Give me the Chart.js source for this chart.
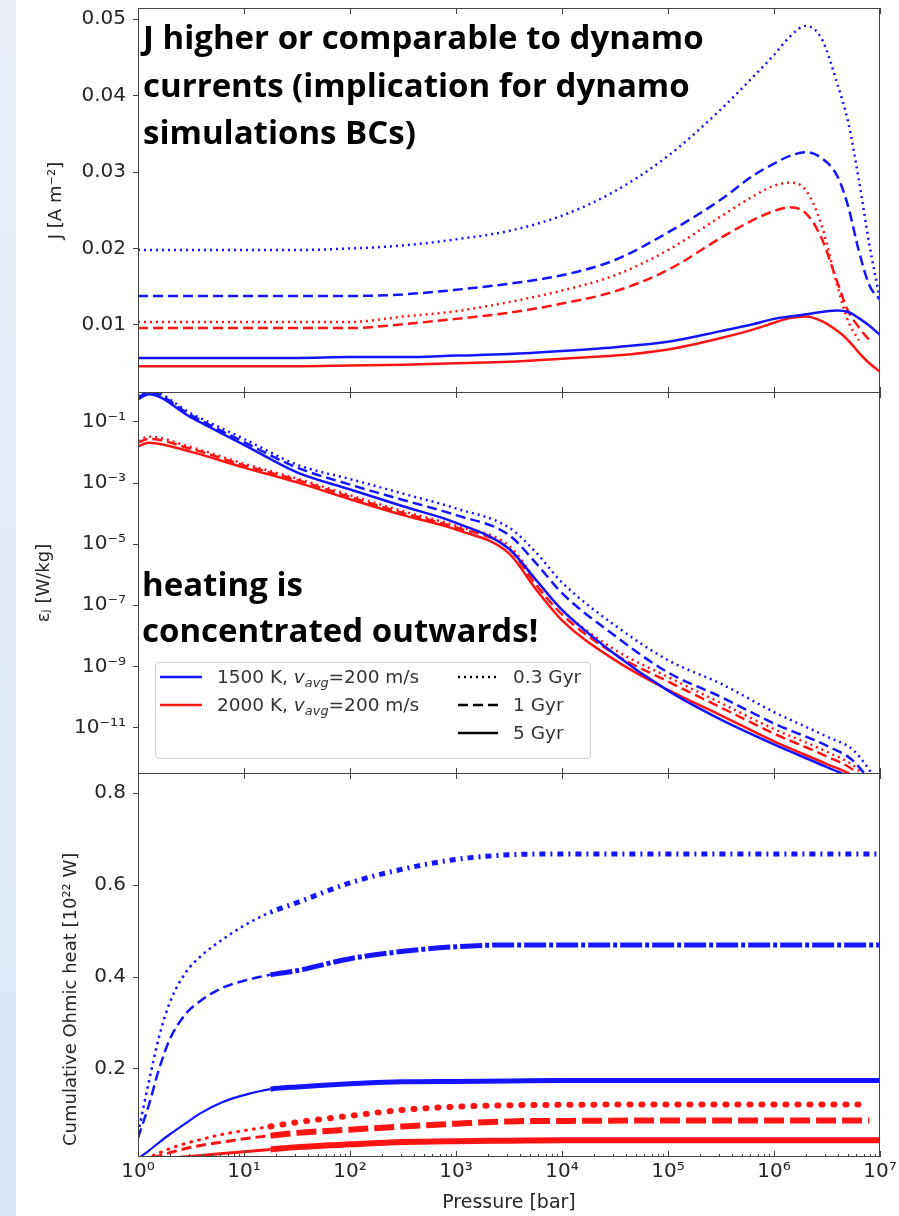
<!DOCTYPE html>
<html>
<head>
<meta charset="utf-8">
<title>Ohmic heating profiles</title>
<script src="https://cdn.jsdelivr.net/npm/chart.js@4.4.1/dist/chart.umd.min.js"></script>
<style>
  html, body { margin: 0; padding: 0; background: #fff; }
  body { position: relative; width: 899px; height: 1216px; overflow: hidden; }
  #strip { position: absolute; left: 0; top: 0; width: 16px; height: 1216px;
           background: linear-gradient(#eaeff8, #dae7f5); }
  canvas { position: absolute; left: 0; }
  .note { position: absolute; font-family: "Open Sans", sans-serif; font-weight: 700;
          font-size: 33px; color: #000; white-space: nowrap; z-index: 5; }
  #legend { position: absolute; left: 155px; top: 662px; width: 434px; height: 95px;
            border: 1px solid #cfcfcf; border-radius: 4px; background: rgba(255,255,255,0.85);
            font-family: "DejaVu Sans", sans-serif; font-size: 18.5px; color: #333; z-index: 4; }
  #legend span { position: absolute; line-height: 20px; white-space: nowrap; }
  #legend sub { font-size: 70%; vertical-align: -0.3em; line-height: 0; }
</style>
</head>
<body>
<div id="strip"></div>
<canvas id="cJ" width="899" height="394" style="top:0"></canvas>
<canvas id="cEps" width="899" height="383" style="top:392px"></canvas>
<canvas id="cCum" width="899" height="443" style="top:773px"></canvas>

<div class="note" style="left:143px; top:13px; line-height:47.5px">J higher or comparable to dynamo<br>currents (implication for dynamo<br>simulations BCs)</div>
<div class="note" style="left:142px; top:561px; line-height:46px">heating is<br>concentrated outwards!</div>

<div id="legend">
  <svg width="434" height="95" style="position:absolute; left:0; top:0">
    <line x1="4" y1="14" x2="46" y2="14" stroke="#1414ff" stroke-width="2.5"/>
    <line x1="4" y1="42" x2="46" y2="42" stroke="#ff1414" stroke-width="2.5"/>
    <line x1="302" y1="14" x2="342" y2="14" stroke="#000" stroke-width="2.5" stroke-dasharray="2 4"/>
    <line x1="302" y1="42" x2="342" y2="42" stroke="#000" stroke-width="2.5" stroke-dasharray="10 5"/>
    <line x1="302" y1="70" x2="342" y2="70" stroke="#000" stroke-width="2.5"/>
  </svg>
  <span style="left:61px; top:4px">1500 K, <i>v</i><sub><i>avg</i></sub>=200 m/s</span>
  <span style="left:61px; top:32px">2000 K, <i>v</i><sub><i>avg</i></sub>=200 m/s</span>
  <span style="left:357px; top:4px">0.3 Gyr</span>
  <span style="left:357px; top:32px">1 Gyr</span>
  <span style="left:357px; top:60px">5 Gyr</span>
</div>

<script>
// x axis: pressure in bar (log), shared by the three panels
const decades = [1, 10, 100, 1e3, 1e4, 1e5, 1e6, 1e7];
const decadeLabels = ['10⁰', '10¹', '10²', '10³', '10⁴', '10⁵', '10⁶', '10⁷'];

// panel 1: current density J [A m^-2]
const pJ = [1, 10, 31.6, 100, 316, 1e3, 3.16e3, 1e4, 3.16e4, 1e5, 3.16e5, 6.31e5, 1e6,
            1.41e6, 2.0e6, 2.82e6, 3.98e6, 5.01e6, 6.31e6, 7.94e6, 1e7];
const jBlue03 = [0.0198, 0.0198, 0.0198, 0.0200, 0.0204, 0.0212, 0.0223, 0.0243, 0.0275, 0.0321, 0.0382,
                 0.0424, 0.0453, 0.0477, 0.0491, 0.0474, 0.0414, 0.0365, 0.0290, 0.0205, 0.0133];
const jBlue1  = [0.0138, 0.0138, 0.0138, 0.0138, 0.0140, 0.0146, 0.0154, 0.0165, 0.0185, 0.0221, 0.0264,
                 0.0295, 0.0311, 0.0321, 0.0326, 0.0318, 0.0294, 0.0255, 0.0197, 0.0152, 0.0133];
const jBlue5  = [0.0057, 0.0057, 0.0057, 0.0058, 0.0058, 0.0060, 0.0062, 0.0066, 0.0071, 0.0078, 0.0092,
                 0.0101, 0.0108, 0.0111, 0.0114, 0.0117, 0.0119, 0.0117, 0.0109, 0.0099, 0.0087];
const jRed03  = [0.0104, 0.0104, 0.0104, 0.0104, 0.0111, 0.0118, 0.0130, 0.0145, 0.0165, 0.0198, 0.0242,
                 0.0268, 0.0282, 0.0286, 0.0276, 0.0230, 0.0150, 0.0105, 0.0080, null, null];
const jRed1   = [0.0096, 0.0096, 0.0096, 0.0096, 0.0101, 0.0108, 0.0116, 0.0128, 0.0144, 0.0172, 0.0214,
                 0.0237, 0.0249, 0.0254, 0.0246, 0.0213, 0.0155, 0.0118, 0.0097, 0.0080, null];
const jRed5   = [0.0046, 0.0046, 0.0046, 0.0047, 0.0048, 0.0050, 0.0052, 0.0056, 0.0060, 0.0068, 0.0083,
                 0.0094, 0.0103, 0.0109, 0.0111, 0.0105, 0.0092, 0.0080, 0.0064, 0.0050, 0.0039];
const jTicks = [0.01, 0.02, 0.03, 0.04, 0.05];

// panel 2: specific Ohmic heating eps_J [W/kg]
const pEps = [1, 1.26, 3.16, 10, 31.6, 100, 316, 1e3, 3.16e3, 5.62e3, 1e4, 3.16e4, 1e5, 3.16e5, 1e6, 3.16e6, 5.62e6, 1e7];
const epsBlue03 = [0.71, 1.07, 0.19, 2.8e-2, 4.0e-3, 1.35e-3, 4.5e-4, 1.48e-4, 3.5e-5, 5.6e-6, 5.6e-7, 2.2e-8,
                   1.6e-9, 2.7e-10, 3.2e-11, 5.0e-12, 1.8e-12, 1.3e-13];
const epsBlue1  = [0.63, 0.95, 0.166, 2.2e-2, 3.2e-3, 8.9e-4, 2.8e-4, 8.9e-5, 2.0e-5, 2.5e-6, 2.5e-7, 1.0e-8,
                   6.3e-10, 1.0e-10, 1.35e-11, 2.5e-12, 7.9e-13, 6.3e-14];
const epsBlue5  = [0.55, 0.81, 0.141, 1.78e-2, 2.24e-3, 6.2e-4, 1.74e-4, 5.0e-5, 7.1e-6, 7.1e-7, 7.1e-8, 2.5e-9,
                   1.6e-10, 1.8e-11, 2.8e-12, 5.0e-13, 2.0e-13, 3.2e-14];
const epsRed03  = [2.4e-2, 3.3e-2, 1.5e-2, 4.3e-3, 1.4e-3, 4.0e-4, 1.2e-4, 4.0e-5, 8.9e-6, 7.1e-7, 7.1e-8, 3.5e-9,
                   4.5e-10, 6.3e-11, 8.9e-12, 1.6e-12, 5.6e-13, 7.9e-14];
const epsRed1   = [2.1e-2, 2.8e-2, 1.32e-2, 3.8e-3, 1.26e-3, 3.5e-4, 1.05e-4, 3.5e-5, 7.1e-6, 5.0e-7, 5.0e-8, 2.5e-9,
                   3.2e-10, 4.5e-11, 6.3e-12, 1.12e-12, 4.0e-13, 5.0e-14];
const epsRed5   = [1.6e-2, 2.1e-2, 1.05e-2, 3.2e-3, 1.05e-3, 2.95e-4, 8.9e-5, 3.0e-5, 5.0e-6, 3.5e-7, 3.2e-8, 1.6e-9,
                   1.7e-10, 2.5e-11, 3.5e-12, 6.3e-13, 2.5e-13, 3.2e-14];
const epsTicks = [1e-11, 1e-9, 1e-7, 1e-5, 1e-3, 1e-1];
const epsTickLabels = ['10⁻¹¹', '10⁻⁹', '10⁻⁷', '10⁻⁵', '10⁻³', '10⁻¹'];

// panel 3: cumulative Ohmic heat [1e22 W]
const pCum = [1, 1.26, 1.58, 2.0, 2.82, 3.98, 6.31, 10, 17.8, 31.6, 100, 316, 1e3, 3.16e3, 1e4, 1e5, 1e6, 6.31e6, 7.94e6, 1e7];
const cumBlue03 = [0.06, 0.17, 0.27, 0.345, 0.41, 0.447, 0.482, 0.512, 0.541, 0.562, 0.605, 0.635, 0.656, 0.666,
                   0.668, 0.668, 0.668, 0.668, 0.668, 0.668];
const cumBlue1  = [0.05, 0.12, 0.2, 0.265, 0.32, 0.35, 0.377, 0.392, 0.405, 0.414, 0.44, 0.456, 0.466, 0.47,
                   0.47, 0.47, 0.47, 0.47, 0.47, 0.47];
const cumBlue5  = [0.005, 0.022, 0.04, 0.058, 0.082, 0.105, 0.128, 0.143, 0.156, 0.161, 0.168, 0.172, 0.173, 0.174,
                   0.175, 0.175, 0.175, 0.175, 0.175, 0.175];
const cumRed03  = [0.0, 0.008, 0.017, 0.027, 0.038, 0.047, 0.058, 0.066, 0.075, 0.084, 0.098, 0.111, 0.118, 0.121,
                   0.122, 0.123, 0.123, 0.123, null, null];
const cumRed1   = [0.0, 0.005, 0.011, 0.018, 0.027, 0.034, 0.041, 0.048, 0.055, 0.061, 0.068, 0.075, 0.081, 0.086,
                   0.087, 0.088, 0.088, 0.088, 0.088, null];
const cumRed5   = [0.0, 0.002, 0.004, 0.006, 0.009, 0.012, 0.016, 0.020, 0.025, 0.030, 0.036, 0.041, 0.043, 0.044,
                   0.045, 0.045, 0.045, 0.045, 0.045, 0.045];
const cumTicks = [0.2, 0.4, 0.6, 0.8];

const BLUE = '#1414ff', RED = '#ff1414', AXIS = '#444', TEXT = '#262626';
const DOT = [2, 4], DASH = [10, 5];
Chart.defaults.font.family = 'DejaVu Sans';

// minor tick positions for the bottom axis (2..9 in each decade)
const minorTicks = [];
decades.slice(0, -1).forEach(d => { for (let k = 2; k <= 9; k++) minorTicks.push(d * k); });

function line(px, vals, color, dash, width, extra) {
  return Object.assign({
    data: px.map((p, i) => ({x: p, y: vals[i]})),
    borderColor: color,
    borderWidth: width,
    borderDash: dash,
    pointRadius: 0,
    fill: false,
    cubicInterpolationMode: 'monotone',
    clip: 0
  }, extra || {});
}

// matplotlib-like frame with inward decade ticks
const framePlugin = {
  id: 'frame',
  afterDraw(chart, args, opts) {
    const {ctx, chartArea: a} = chart;
    const x = chart.scales.x;
    ctx.save();
    ctx.strokeStyle = AXIS;
    ctx.lineWidth = 1;
    ctx.strokeRect(a.left + 0.5, a.top + 0.5, a.right - a.left - 1, a.bottom - a.top - 1);
    ctx.beginPath();
    decades.forEach(v => {
      const px = Math.round(x.getPixelForValue(v)) + 0.5;
      ctx.moveTo(px, a.top); ctx.lineTo(px, a.top + 6);
      ctx.moveTo(px, a.bottom); ctx.lineTo(px, a.bottom - 6);
    });
    if (opts.minor) {
      minorTicks.forEach(v => {
        const px = Math.round(x.getPixelForValue(v)) + 0.5;
        ctx.moveTo(px, a.bottom); ctx.lineTo(px, a.bottom - 3);
      });
    }
    ctx.stroke();
    ctx.restore();
  }
};

function yAxis(type, min, max, ticks, labelFn, title, titlePad) {
  return {
    type: type, position: 'left', min: min, max: max,
    grid: {drawOnChartArea: false, color: AXIS, tickLength: 5, lineWidth: 1},
    border: {display: false},
    afterBuildTicks: s => { s.ticks = ticks.map(v => ({value: v})); },
    ticks: {font: {size: 20}, color: TEXT, padding: 7, autoSkip: false, callback: labelFn},
    title: {display: true, text: title, color: TEXT, font: {size: 18}, padding: {top: titlePad, bottom: 0}},
    afterFit: s => { s.width = 138; s.paddingTop = 0; s.paddingBottom = 0; }
  };
}

const hiddenX = {type: 'logarithmic', min: 1, max: 1e7, display: false};
const baseOpts = {
  responsive: false,
  animation: false,
  events: [],
  plugins: {legend: {display: false}, tooltip: {enabled: false}, frame: {minor: false}}
};

// Panel 1
new Chart(document.getElementById('cJ'), {
  type: 'line',
  data: {datasets: [
    line(pJ, jBlue03, BLUE, DOT, 2.5), line(pJ, jBlue1, BLUE, DASH, 2.5), line(pJ, jBlue5, BLUE, [], 2.5),
    line(pJ, jRed03, RED, DOT, 2.5), line(pJ, jRed1, RED, DASH, 2.5), line(pJ, jRed5, RED, [], 2.5)
  ]},
  options: Object.assign({}, baseOpts, {
    layout: {padding: {top: 8, right: 19, bottom: 1, left: 0}},
    scales: {
      x: hiddenX,
      y: yAxis('linear', 0.00111, 0.05144, jTicks, v => v.toFixed(2), 'J [A m⁻²]', 46)
    }
  }),
  plugins: [framePlugin]
});

// Panel 2
new Chart(document.getElementById('cEps'), {
  type: 'line',
  data: {datasets: [
    line(pEps, epsBlue03, BLUE, DOT, 2.5), line(pEps, epsBlue1, BLUE, DASH, 2.5), line(pEps, epsBlue5, BLUE, [], 2.5),
    line(pEps, epsRed03, RED, DOT, 2.5), line(pEps, epsRed1, RED, DASH, 2.5), line(pEps, epsRed5, RED, [], 2.5)
  ]},
  options: Object.assign({}, baseOpts, {
    layout: {padding: {top: 0, right: 19, bottom: 1, left: 0}},
    scales: {
      x: hiddenX,
      y: yAxis('logarithmic', 3.0e-13, 0.955, epsTicks, (v, i) => epsTickLabels[i], 'εⱼ [W/kg]', 34)
    }
  }),
  plugins: [framePlugin]
});

// Panel 3: below ~20 bar the curves are thin with plain dots/dashes, thick afterwards
const thinLeft = (w, dash) => ({segment: {
  borderWidth: c => c.p1.parsed.x <= 17.8 ? w : undefined,
  borderDash: c => c.p1.parsed.x <= 17.8 ? dash : undefined
}});
new Chart(document.getElementById('cCum'), {
  type: 'line',
  data: {datasets: [
    line(pCum, cumBlue03, BLUE, [2, 5, 6, 5], 5, thinLeft(2.5, [2.5, 4])),
    line(pCum, cumBlue1, BLUE, [22, 3, 4, 3], 5, thinLeft(2.5, [10, 5])),
    line(pCum, cumBlue5, BLUE, [], 5, thinLeft(2.2, [])),
    line(pCum, cumRed03, RED, [1, 11], 6, Object.assign({borderCapStyle: 'round'}, thinLeft(3, [1, 7]))),
    line(pCum, cumRed1, RED, [20, 6], 6, thinLeft(3, [10, 5])),
    line(pCum, cumRed5, RED, [], 6, thinLeft(3, []))
  ]},
  options: Object.assign({}, baseOpts, {
    layout: {padding: {top: 0, right: 19, bottom: 0, left: 0}},
    plugins: {legend: {display: false}, tooltip: {enabled: false}, frame: {minor: true}},
    scales: {
      x: {
        type: 'logarithmic', min: 1, max: 1e7, position: 'bottom',
        grid: {display: false, drawTicks: false},
        border: {display: false},
        afterBuildTicks: s => { s.ticks = decades.map(v => ({value: v})); },
        ticks: {font: {size: 20}, color: TEXT, padding: 3, autoSkip: false, maxRotation: 0,
                callback: (v, i) => decadeLabels[i]},
        title: {display: true, text: 'Pressure [bar]', color: TEXT, font: {size: 19}, padding: {top: 0, bottom: 2}},
        afterFit: s => { s.height = 59; s.paddingLeft = 0; s.paddingRight = 0; }
      },
      y: yAxis('linear', 0.0085, 0.844, cumTicks, v => v.toFixed(1),
               'Cumulative Ohmic heat [10²² W]' + '\u00a0'.repeat(12), 61)
    }
  }),
  plugins: [framePlugin]
});
</script>
</body>
</html>
